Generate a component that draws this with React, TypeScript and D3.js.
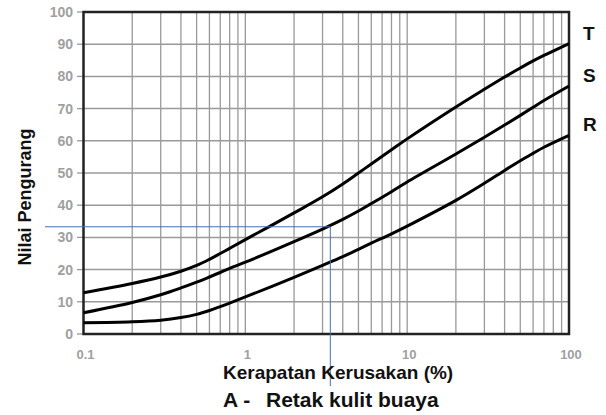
import React from "react";
import * as d3 from "d3";

const xValues = [0.1, 0.2, 0.3, 0.4, 0.5, 0.6, 0.7, 0.8, 1, 2, 3, 4, 5, 6, 8, 10, 20, 30, 40, 50, 60, 70, 100];
const seriesT = [12.8, 15.7, 17.7, 19.5, 21.3, 23.2, 25.0, 26.6, 29.3, 37.6, 42.6, 46.6, 50.0, 52.8, 57.2, 60.6, 70.5, 76.0, 79.8, 82.6, 84.8, 86.5, 90.2];
const seriesS = [6.6, 9.8, 12.2, 14.3, 16.1, 17.7, 19.1, 20.4, 22.3, 28.7, 32.6, 35.6, 38.2, 40.5, 44.2, 47.2, 55.9, 61.1, 64.9, 67.9, 70.4, 72.5, 77.0];
const seriesR = [3.5, 3.8, 4.3, 5.1, 6.1, 7.3, 8.5, 9.6, 11.5, 17.6, 21.3, 24.0, 26.3, 28.2, 31.1, 33.5, 41.5, 46.8, 50.8, 53.8, 56.1, 58.0, 61.7];
const seriesNames = ["T", "S", "R"];
const yTicks = [0, 10, 20, 30, 40, 50, 60, 70, 80, 90, 100];
const xTickLabels = ["0.1", "1", "10", "100"];
const xTickValues = [0.1, 1, 10, 100];
const refPoint = { x: 3.35, y: 33.3 };

const W = 606;
const H = 415;
const left = 83.5, right = 569, top = 12, bottom = 334;

export default function App() {
  const x = d3.scaleLog().domain([0.1, 100]).range([left, right]);
  const y = d3.scaleLinear().domain([0, 100]).range([bottom, top]);

  const minorX: number[] = [];
  [0.1, 1, 10].forEach((d) => {
    for (let k = 1; k <= 9; k++) {
      const v = +(d * k).toPrecision(3);
      if (v > 0.1) minorX.push(v);
    }
  });

  const line = d3
    .line<number>()
    .x((_, i) => x(xValues[i]))
    .y((d) => y(d))
    .curve(d3.curveCatmullRom.alpha(0.5));

  const series = [seriesT, seriesS, seriesR];
  const font = "'Liberation Sans', Arial, sans-serif";

  return (
    <div style={{ position: "absolute", left: 0, top: 0 }}>
      <svg width={W} height={H} style={{ display: "block", background: "#fff" }}>
        {/* grid */}
        {yTicks.slice(1, -1).map((t) => (
          <line key={"h" + t} x1={left} x2={right} y1={y(t)} y2={y(t)} stroke="#9a9a9a" strokeWidth={1.5} />
        ))}
        {minorX.map((v) => (
          <line key={"v" + v} x1={x(v)} x2={x(v)} y1={top} y2={bottom} stroke="#9a9a9a" strokeWidth={1.3} />
        ))}
        {/* y ticks */}
        {yTicks.map((t) => (
          <g key={"yt" + t}>
            <line x1={77} x2={left} y1={y(t)} y2={y(t)} stroke="#999" strokeWidth={1.3} />
            <text x={73} y={y(t)} dy="0.36em" textAnchor="end" fontFamily={font} fontWeight="bold" fontSize={14} fill="#a0a0a0">
              {t}
            </text>
          </g>
        ))}
        {xTickValues.map((v, i) => (
          <text key={"xt" + v} x={x(v) + 2} y={359} textAnchor="middle" fontFamily={font} fontWeight="bold" fontSize={13} fill="#a0a0a0">
            {xTickLabels[i]}
          </text>
        ))}
        {/* frame */}
        <rect x={left} y={top} width={right - left} height={bottom - top} fill="none" stroke="#222" strokeWidth={2.5} />
        {/* curves */}
        {series.map((s, i) => (
          <path key={"s" + i} d={line(s) || ""} fill="none" stroke="#000" strokeWidth={3} />
        ))}
        {/* series labels */}
        {series.map((s, i) => (
          <text key={"l" + i} x={583} y={y(s[s.length - 1]) - 2} dy="-0.1em" fontFamily={font} fontWeight="bold" fontSize={19} fill="#111">
            {seriesNames[i]}
          </text>
        ))}
        {/* reference lines */}
        <line x1={45} x2={x(refPoint.x)} y1={y(refPoint.y)} y2={y(refPoint.y)} stroke="#4a6db3" strokeWidth={1} />
        <line x1={x(refPoint.x)} x2={x(refPoint.x)} y1={y(refPoint.y)} y2={386} stroke="#4a6db3" strokeWidth={1} />
        {/* axis titles */}
        <text transform="translate(31,197) rotate(-90)" textAnchor="middle" fontFamily={font} fontWeight="bold" fontSize={18} fill="#111">
          Nilai Pengurang
        </text>
        <text x={223} y={379} fontFamily={font} fontWeight="bold" fontSize={19} fill="#111">
          Kerapatan Kerusakan (%)
        </text>
        <text x={223} y={407} fontFamily={font} fontWeight="bold" fontSize={21} fill="#111">
          A -
        </text>
        <text x={266} y={407} fontFamily={font} fontWeight="bold" fontSize={21} fill="#111">
          Retak kulit buaya
        </text>
      </svg>
    </div>
  );
}
